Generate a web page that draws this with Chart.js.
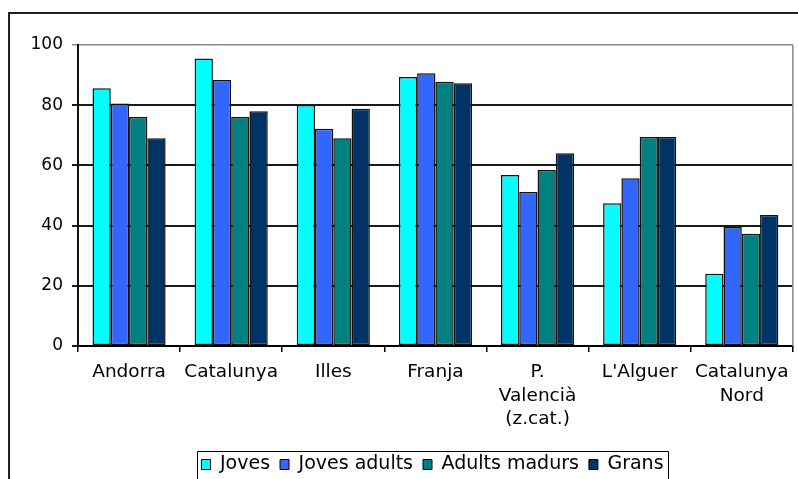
<!DOCTYPE html>
<html>
<head>
<meta charset="utf-8">
<script src="https://cdn.jsdelivr.net/npm/chart.js@4.4.1/dist/chart.umd.min.js"></script>
<style>
  html, body { margin: 0; padding: 0; background: #fff; }
  #wrap { width: 798px; height: 479px; position: relative; }
</style>
</head>
<body>
<div id="wrap"><canvas id="c" width="798" height="479"></canvas></div>
<script>
// Territories (x categories)
const categories = ['Andorra', 'Catalunya', 'Illes', 'Franja', ['P.', 'Valencià', '(z.cat.)'], "L'Alguer", ['Catalunya', 'Nord']];

// Percentages by age group
const joves        = [85.6, 95.5, 80.1, 89.4, 56.8, 47.4, 24.0];
const jovesAdults  = [80.6, 88.4, 72.2, 90.6, 51.2, 55.7, 39.5];
const adultsMadurs = [76.1, 76.1, 69.0, 87.8, 58.5, 69.4, 37.3];
const grans        = [69.0, 78.0, 78.8, 87.3, 64.0, 69.4, 43.5];

const seriesNames = ['Joves', 'Joves adults', 'Adults madurs', 'Grans'];
const yTicks = [0, 20, 40, 60, 80, 100];

const colors = ['#00FFFF', '#3366FF', '#008080', '#003366'];
const FONT = '"DejaVu Sans", Verdana, sans-serif';
const LEGEND_SHIFT = 36;
const LEGEND_PAD = 10;
const LEGEND_FONT = 19;

// Frame around the whole chart, plot-area right edge and box around the legend
const framePlugin = {
  id: 'frames',
  afterUpdate(chart) {
    const lg = chart.legend;
    if (!lg) return;
    lg.left += LEGEND_SHIFT;
    lg.right += LEGEND_SHIFT;
  },
  beforeDraw(chart) {
    const ctx = chart.ctx;
    ctx.save();
    ctx.fillStyle = '#fff';
    ctx.fillRect(0, 0, chart.width, chart.height);
    ctx.strokeStyle = '#222';
    ctx.lineWidth = 2;
    ctx.beginPath();
    ctx.moveTo(9, chart.height + 5);
    ctx.lineTo(9, 13);
    ctx.lineTo(chart.width + 5, 13);
    ctx.stroke();
    ctx.restore();
  },
  afterDraw(chart) {
    const ctx = chart.ctx;
    const a = chart.chartArea;
    ctx.save();
    ctx.strokeStyle = '#888';
    ctx.lineWidth = 1.5;
    ctx.beginPath();
    ctx.moveTo(a.right, a.top);
    ctx.lineTo(a.right, a.bottom);
    ctx.stroke();

    const lg = chart.legend;
    const rowW = lg.lineWidths[0];
    const itemsLeft = (lg.left + LEGEND_PAD + lg.right - rowW) / 2;
    const itemsRight = itemsLeft + rowW - LEGEND_PAD;
    const centerY = lg.top + LEGEND_PAD + LEGEND_FONT / 2;
    const left = Math.round(itemsLeft - 4) + 0.5;
    const right = Math.round(itemsRight + 4) + 0.5;
    const top = Math.round(centerY - 14) + 0.5;
    ctx.strokeStyle = '#000';
    ctx.lineWidth = 1;
    ctx.beginPath();
    ctx.moveTo(left, chart.height + 5);
    ctx.lineTo(left, top);
    ctx.lineTo(right, top);
    ctx.lineTo(right, chart.height + 5);
    ctx.stroke();
    ctx.restore();
  }
};

const datasets = [joves, jovesAdults, adultsMadurs, grans].map((vals, i) => ({
  label: seriesNames[i],
  data: vals,
  backgroundColor: colors[i],
  borderColor: '#111',
  borderWidth: 1.5,
  borderSkipped: false,
  categoryPercentage: 0.716,
  barPercentage: 1.0
}));

new Chart(document.getElementById('c'), {
  type: 'bar',
  data: { labels: categories, datasets },
  options: {
    responsive: false,
    animation: false,
    devicePixelRatio: 1,
    layout: { padding: { left: 0, right: 5, top: 45, bottom: -5 } },
    plugins: {
      title: { display: false },
      tooltip: { enabled: false },
      legend: {
        display: true,
        position: 'bottom',
        labels: {
          color: '#000',
          font: { family: FONT, size: LEGEND_FONT },
          boxWidth: 9,
          boxHeight: 10,
          padding: LEGEND_PAD,
          generateLabels(chart) {
            return chart.data.datasets.map((ds, i) => ({
              text: ds.label,
              fillStyle: ds.backgroundColor,
              strokeStyle: '#000',
              lineWidth: 1,
              hidden: false,
              datasetIndex: i
            }));
          }
        }
      }
    },
    scales: {
      x: {
        afterFit(scale) { scale.height = 99; },
        grid: {
          display: true,
          drawOnChartArea: false,
          drawTicks: true,
          tickLength: 6,
          color: '#000',
          lineWidth: 1.5,
          offset: true
        },
        border: { display: true, color: '#000', width: 2 },
        ticks: {
          color: '#000',
          font: { family: FONT, size: 18.5, lineHeight: 1.25 },
          padding: 9,
          maxRotation: 0,
          autoSkip: false
        }
      },
      y: {
        min: 0,
        max: 100,
        afterFit(scale) { scale.width = 78; },
        afterBuildTicks(scale) { scale.ticks = yTicks.map(v => ({ value: v })); },
        grid: {
          display: true,
          drawOnChartArea: true,
          drawTicks: true,
          tickLength: 6,
          color: (c) => (c.tick && c.tick.value === 100 ? '#888' : '#1a1a1a'),
          lineWidth: (c) => (c.tick && c.tick.value === 100 ? 1.5 : 2)
        },
        border: { display: true, color: '#111', width: 2 },
        ticks: {
          color: '#000',
          font: { family: FONT, size: 17 },
          padding: 9
        }
      }
    }
  },
  plugins: [framePlugin]
});
</script>
</body>
</html>
